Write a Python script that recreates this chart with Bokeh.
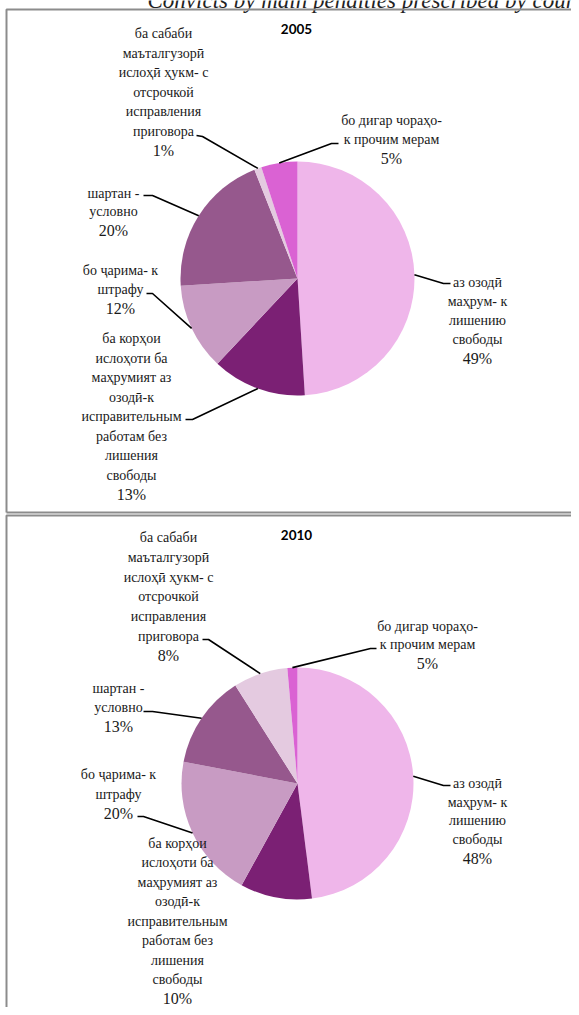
import math
from bokeh.plotting import figure
from bokeh.models import Range1d
from bokeh.core.properties import value
from bokeh.embed import file_html
from bokeh.resources import INLINE

# ---------------- data ----------------
categories = [
    ["аз озодӣ", "маҳрум- к", "лишению", "свободы"],
    ["ба корҳои", "ислоҳоти ба", "маҳрумият аз", "озодӣ-к", "исправительным", "работам без", "лишения", "свободы"],
    ["бо ҷарима- к", "штрафу"],
    ["шартан -", "условно"],
    ["ба сабаби", "маъталгузорӣ", "ислоҳӣ ҳукм- с", "отсрочкой", "исправления", "приговора"],
    ["бо дигар чораҳо-", "к прочим мерам"],
]
years = ["2005", "2010"]
# slice shares as drawn
shares_2005 = [49, 13, 12, 20, 1, 5]
shares_2010 = [48, 10, 20, 13, 7.6, 1.4]
# printed percentage labels
pct_2005 = ["49%", "13%", "12%", "20%", "1%", "5%"]
pct_2010 = ["48%", "10%", "20%", "13%", "8%", "5%"]
colors = ["#EFB6EA", "#7B2074", "#C89BC3", "#96588D", "#E4CAE0", "#DA62D3"]
caption = "Convicts by main penalties prescribed by court"

# ---------------- layout (picture pixel coordinates) ----------------
W, H = 571, 1007
def X(px): return px
def Y(py): return H - py

charts = [
    dict(year=years[0], shares=shares_2005, pct=pct_2005, cx=297, cy=278, r=117, title_y=28,
         labels=[(477, 282, 358), (131, 338, 494), (120, 270, 308), (113, 193, 230), (163, 33, 150), (391, 120, 158)],
         leaders=[[(443, 283), (450, 283)], [(192, 419), (185, 419)], [(152, 293), (146, 293)],
                  [(152, 195), (143, 195)], [(202, 136), (196, 135)], [(331, 143), (338, 143)]]),
    dict(year=years[1], shares=shares_2010, pct=pct_2010, cx=297, cy=783, r=116, title_y=534,
         labels=[(477, 783, 858), (177, 843, 998), (118, 774, 813), (118, 688, 726), (168, 537, 655), (427, 626, 663)],
         leaders=[[(443, 785), (450, 785)], None, [(143, 816), (137, 816)],
                  [(152, 711), (143, 711)], [(208, 639), (202, 639)], [(370, 648), (376, 648)]]),
]

p = figure(width=W, height=H, x_range=Range1d(0, W), y_range=Range1d(0, H),
           output_backend="svg", toolbar_location=None, min_border=0,
           x_axis_type=None, y_axis_type=None)
p.grid.visible = False
p.outline_line_color = None
p.background_fill_color = "white"

# caption (cut off at the top edge in the source)
p.text(x=[X(147)], y=[Y(0)], text=[caption], text_font=value("Liberation Serif"),
       text_font_style="italic", text_font_size="23px", text_align="left",
       text_baseline="alphabetic", text_color="#222222")

# panel borders
p.multi_line(xs=[[X(700), X(6), X(6)], [X(6), X(700)], [X(700), X(6), X(6)]],
             ys=[[Y(9), Y(9), Y(512)], [Y(512), Y(512)], [Y(515), Y(515), Y(1100)]],
             line_color="#8c8c8c", line_width=2)

serif = value("Liberation Serif")
for ch in charts:
    total = sum(ch["shares"])
    cx, cy, r = X(ch["cx"]), Y(ch["cy"]), ch["r"]
    cum = 0.0
    starts, ends, mids = [], [], []
    for s in ch["shares"]:
        a0 = math.pi / 2 - 2 * math.pi * cum / total
        cum += s
        a1 = math.pi / 2 - 2 * math.pi * cum / total
        starts.append(a0); ends.append(a1); mids.append((a0 + a1) / 2)
    p.wedge(x=cx, y=cy, radius=r, start_angle=starts, end_angle=ends, direction="clock",
            fill_color=colors, line_color=None)
    # leader lines
    lx, ly = [], []
    for i, ld in enumerate(ch["leaders"]):
        if ld is None:
            continue
        ex = cx + r * math.cos(mids[i]); ey = cy + r * math.sin(mids[i])
        lx.append([ex] + [X(a) for a, b in ld])
        ly.append([ey] + [Y(b) for a, b in ld])
    p.multi_line(xs=lx, ys=ly, line_color="black", line_width=1.6)
    # labels
    tx, ty, tt = [], [], []
    px_, py_, pt = [], [], []
    for i, (lxp, ly0, pyp) in enumerate(ch["labels"]):
        n = len(categories[i])
        step = (pyp - 19 - ly0) / (n - 1) if n > 1 else 0
        for k, line in enumerate(categories[i]):
            tx.append(X(lxp)); ty.append(Y(ly0 + k * step)); tt.append(line)
        px_.append(X(lxp)); py_.append(Y(pyp)); pt.append(ch["pct"][i])
    p.text(x=tx, y=ty, text=tt, text_font=serif, text_font_size="14px",
           text_align="center", text_baseline="middle", text_color="#1a1a1a")
    p.text(x=px_, y=py_, text=pt, text_font=serif, text_font_size="16px",
           text_align="center", text_baseline="middle", text_color="#1a1a1a")
    p.text(x=[X(296)], y=[Y(ch["title_y"])], text=[ch["year"]], text_font=value("Lato"),
           text_font_style="bold", text_font_size="13.5px", text_align="center",
           text_baseline="middle", text_color="black")

open("out.html", "w").write(file_html(p, INLINE))
